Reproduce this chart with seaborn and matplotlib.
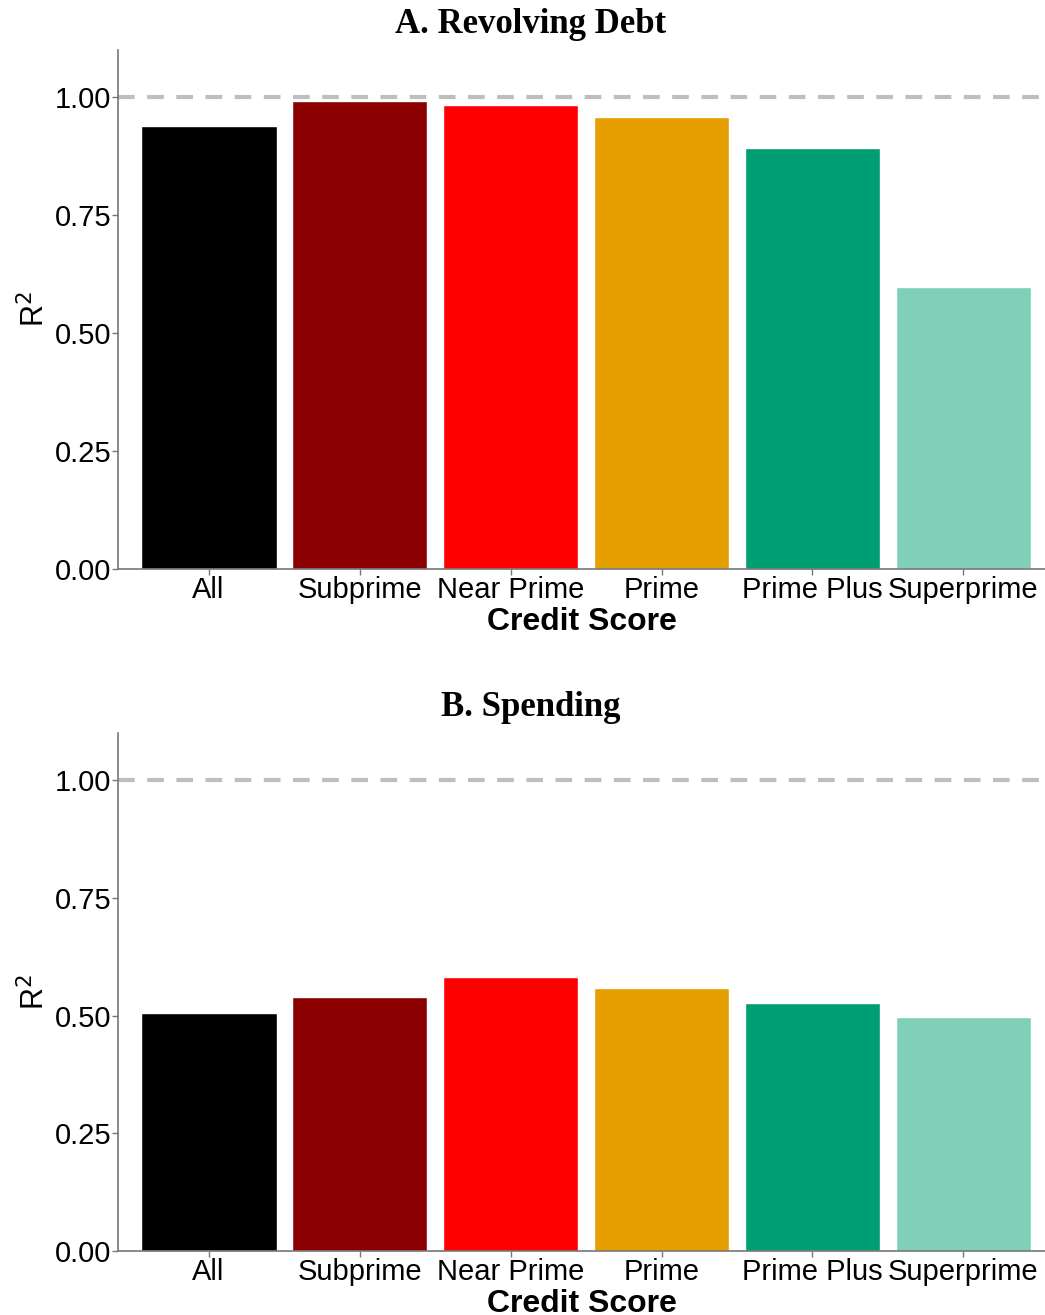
import numpy as np
import pandas as pd
import matplotlib
matplotlib.use("Agg")
import matplotlib.pyplot as plt
import seaborn as sns

categories = ["All", "Subprime", "Near Prime", "Prime", "Prime Plus", "Superprime"]
revolving_r2 = [0.939, 0.992, 0.983, 0.958, 0.892, 0.597]
spending_r2 = [0.505, 0.539, 0.582, 0.558, 0.527, 0.497]
bar_colors = ["#000000", "#8B0000", "#FF0000", "#E69F00", "#009E73", "#80CFB9"]
panel_titles = ["A. Revolving Debt", "B. Spending"]

sns.set_theme(style="white")
plt.rcParams["font.family"] = ["Liberation Sans", "DejaVu Sans"]
plt.rcParams["text.color"] = "black"
plt.rcParams["axes.labelcolor"] = "black"

fig = plt.figure(figsize=(10.45, 13.15), dpi=100)
axes = [fig.add_axes([0.1129, 0.5673, 0.8871, 0.3947]),
        fig.add_axes([0.1129, 0.0487, 0.8871, 0.3939])]
title_y = [0.981, 0.462]

for ax, vals, title, ty in zip(axes, [revolving_r2, spending_r2], panel_titles, title_y):
    df = pd.DataFrame({"Credit Score": categories, "R2": vals})
    sns.barplot(data=df, x="Credit Score", y="R2", hue="Credit Score",
                palette=bar_colors, width=0.9, saturation=1, legend=False, ax=ax)
    ax.axhline(1.0, color="#BEBEBE", linewidth=3, linestyle=(0, (4, 3)), zorder=0)
    ax.set_ylim(0, 1.1)
    ax.set_xlim(-0.6, 5.54)
    ax.set_yticks([0, 0.25, 0.5, 0.75, 1.0])
    ax.set_yticklabels(["0.00", "0.25", "0.50", "0.75", "1.00"])
    ax.tick_params(axis="both", labelsize=21, length=4, width=1, color="#777777",
                   labelcolor="black", pad=1, bottom=True, left=True)
    for s in ["top", "right"]:
        ax.spines[s].set_visible(False)
    for s in ["left", "bottom"]:
        ax.spines[s].set_color("#777777")
        ax.spines[s].set_linewidth(1.2)
    ax.set_xlabel("Credit Score", fontsize=23, fontweight="bold", labelpad=2)
    ax.set_ylabel(r"R$^2$", fontsize=22, labelpad=2)
    fig.text(0.508, ty, title, ha="center", va="center", fontsize=25,
             fontweight="bold", family=["Liberation Serif", "DejaVu Serif"])

fig.savefig("out.png", dpi=100)
